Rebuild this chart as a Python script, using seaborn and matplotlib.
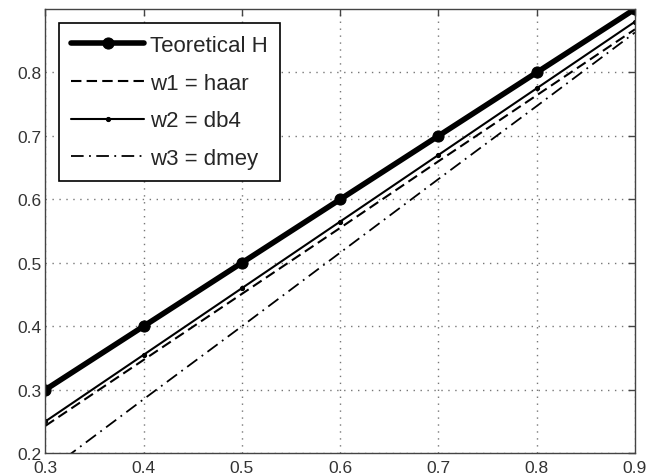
import matplotlib
matplotlib.use("Agg")
import matplotlib.pyplot as plt
import seaborn as sns
import pandas as pd

# Hurst exponent estimates for three wavelets against the theoretical value
h_true = [0.3, 0.4, 0.5, 0.6, 0.7, 0.8, 0.9]
h_haar = [0.243, 0.347, 0.451, 0.555, 0.660, 0.764, 0.868]
h_db4 = [0.250, 0.355, 0.460, 0.565, 0.670, 0.775, 0.880]
h_dmey = [0.169, 0.285, 0.400, 0.516, 0.632, 0.747, 0.863]

labels = ["Teoretical H", "w1 = haar", "w2 = db4", "w3 = dmey"]
xticks = [0.3, 0.4, 0.5, 0.6, 0.7, 0.8, 0.9]
yticks = [0.2, 0.3, 0.4, 0.5, 0.6, 0.7, 0.8]

df = pd.DataFrame({"H": h_true, labels[0]: h_true, labels[1]: h_haar,
                   labels[2]: h_db4, labels[3]: h_dmey})

sns.set_theme(style="white")
plt.rcParams["font.family"] = ["Liberation Sans", "DejaVu Sans"]

fig = plt.figure(figsize=(6.58, 4.77), dpi=100)
ax = fig.add_axes([0.069, 0.048, 0.896, 0.931])

styles = {
    labels[0]: dict(lw=4.0, marker="o", ms=8, ls="-"),
    labels[1]: dict(lw=1.5, ls=(0, (5, 2.5))),
    labels[2]: dict(lw=1.5, marker="o", ms=3, ls="-"),
    labels[3]: dict(lw=1.3, ls=(0, (7, 3, 1, 3))),
}
for name in labels:
    sns.lineplot(data=df, x="H", y=name, ax=ax, color="black", label=name,
                 mec="black", mfc="black", **styles[name])

ax.set_xlim(0.3, 0.9)
ax.set_ylim(0.2, 0.9)
ax.set_xticks(xticks)
ax.set_yticks(yticks)
ax.set_xticklabels([f"{v:.1f}" for v in xticks])
ax.set_yticklabels([f"{v:.1f}" for v in yticks])
ax.set_xlabel("")
ax.set_ylabel("")
ax.grid(True, ls=(0, (1, 4)), color="#777777", lw=1.0)
ax.tick_params(direction="in", length=5, width=1, color="#444444",
               top=True, right=True, labelsize=12.5, labelcolor="#333333")
ax.tick_params(axis="x", pad=5)
ax.tick_params(axis="y", pad=3)
for sp in ax.spines.values():
    sp.set_color("#444444")
    sp.set_linewidth(1.0)

leg = ax.legend(loc="upper left", fontsize=16, frameon=True, fancybox=False,
                edgecolor="black", handlelength=3.25, handletextpad=0.3,
                borderpad=0.55, labelspacing=0.75, borderaxespad=0.62)
leg.get_frame().set_linewidth(1.2)
leg.get_frame().set_alpha(1.0)

fig.savefig("out.png", dpi=100)
